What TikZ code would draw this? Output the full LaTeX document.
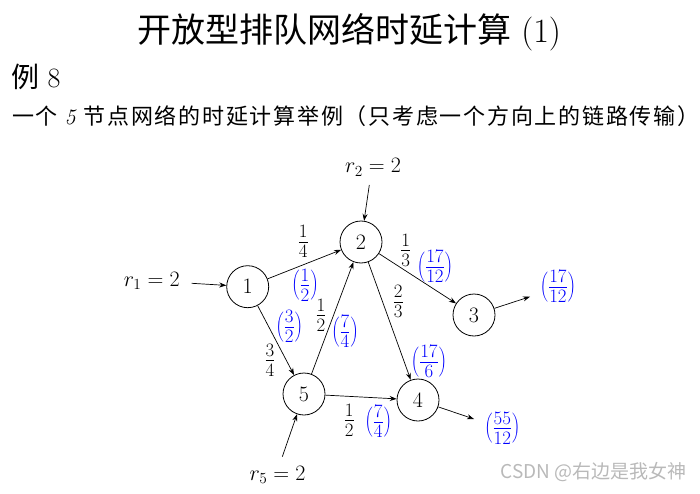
\RequirePackage{fix-cm}
\documentclass[tikz,border=0pt]{standalone}
\usepackage{fontspec}
\newfontfamily\cjk{Noto Sans CJK SC}
\newfontfamily\cjksp[LetterSpace=8]{Noto Sans CJK SC}
\usetikzlibrary{arrows.meta}
\begin{document}
\begin{tikzpicture}[x=1pt,y=-1pt,
  every node/.style={font=\fontsize{22}{26}\selectfont},
  vtx/.style={draw, circle, minimum size=42pt, inner sep=0pt, line width=0.8pt},
  arr/.style={-{Stealth[length=7pt,width=5pt]}, line width=0.7pt},
  lab/.style={inner sep=0pt},
  flab/.style={inner sep=0pt, font=\fontsize{27}{31}\selectfont},
  blab/.style={inner sep=0pt, text=blue, font=\fontsize{27}{31}\selectfont}]
\useasboundingbox (0,0) rectangle (700,494);
\node[lab, font=\fontsize{34}{40}\selectfont, anchor=base] (title) at (349,43) {{\cjk 开放型排队网络时延计算} (1)};
\node[lab, font=\fontsize{28}{32}\selectfont, anchor=base west] (ex) at (11,88) {{\cjk 例} 8};
\node[lab, font=\fontsize{22}{26}\selectfont, anchor=base west] (sub) at (12,125) {{\cjksp 一个} \textit{5} {\cjksp 节点网络的时延计算举例（只考虑一个方向上的链路传输）}};
% vertices
\node[vtx] (n1) at (247.7,286.7) {$1$};
\node[vtx] (n2) at (361,242) {$2$};
\node[vtx] (n3) at (474,315) {$3$};
\node[vtx] (n4) at (418,400) {$4$};
\node[vtx] (n5) at (304,394) {$5$};
% external inputs
\node[lab, anchor=base] (r1) at (151.7,286) {$r_1 = 2$};
\node[lab, anchor=base] (r2) at (373,173) {$r_2 = 2$};
\node[lab, anchor=base] (r5) at (277.5,480) {$r_5 = 2$};
\coordinate (s1) at (191.7,283.3);
\coordinate (s2) at (369.3,185);
\coordinate (s5) at (282.3,456.7);
\coordinate (o3) at (530,296.7);
\coordinate (o4) at (474,419);
% connectors
\draw[arr] (s1) -- (n1);
\draw[arr] (s2) -- (n2);
\draw[arr] (s5) -- (n5);
\draw[arr] (n1) -- (n2);
\draw[arr] (n1) -- (n5);
\draw[arr] (n5) -- (n2);
\draw[arr] (n2) -- (n3);
\draw[arr] (n2) -- (n4);
\draw[arr] (n5) -- (n4);
\draw[arr] (n3) -- (o3);
\draw[arr] (n4) -- (o4);
% labels
\node[flab] (p12) at (303.3,241.7) {$\frac{1}{4}$};
\node[blab] (d12) at (305,285) {$\left(\frac{1}{2}\right)$};
\node[flab] (p23) at (405.7,250) {$\frac{1}{3}$};
\node[blab] (d23) at (435,266.7) {$\left(\frac{17}{12}\right)$};
\node[flab] (p24) at (398.3,301.7) {$\frac{2}{3}$};
\node[flab] (p52) at (321,315) {$\frac{1}{2}$};
\node[blab] (d52) at (345,331.7) {$\left(\frac{7}{4}\right)$};
\node[blab] (d15) at (289.3,326.7) {$\left(\frac{3}{2}\right)$};
\node[flab] (p15) at (270,360) {$\frac{3}{4}$};
\node[blab] (d24) at (429,361.7) {$\left(\frac{17}{6}\right)$};
\node[flab] (p54) at (349.3,420) {$\frac{1}{2}$};
\node[blab] (d54) at (378.3,421.7) {$\left(\frac{7}{4}\right)$};
\node[blab] (d3) at (558,286.7) {$\left(\frac{17}{12}\right)$};
\node[blab] (d4) at (502.3,428.3) {$\left(\frac{55}{12}\right)$};
% watermark
\node[lab, anchor=east, text=gray!55, font=\cjk\fontsize{19}{22}\selectfont] (wm) at (687,472) {CSDN @右边是我女神};
\end{tikzpicture}
\end{document}
